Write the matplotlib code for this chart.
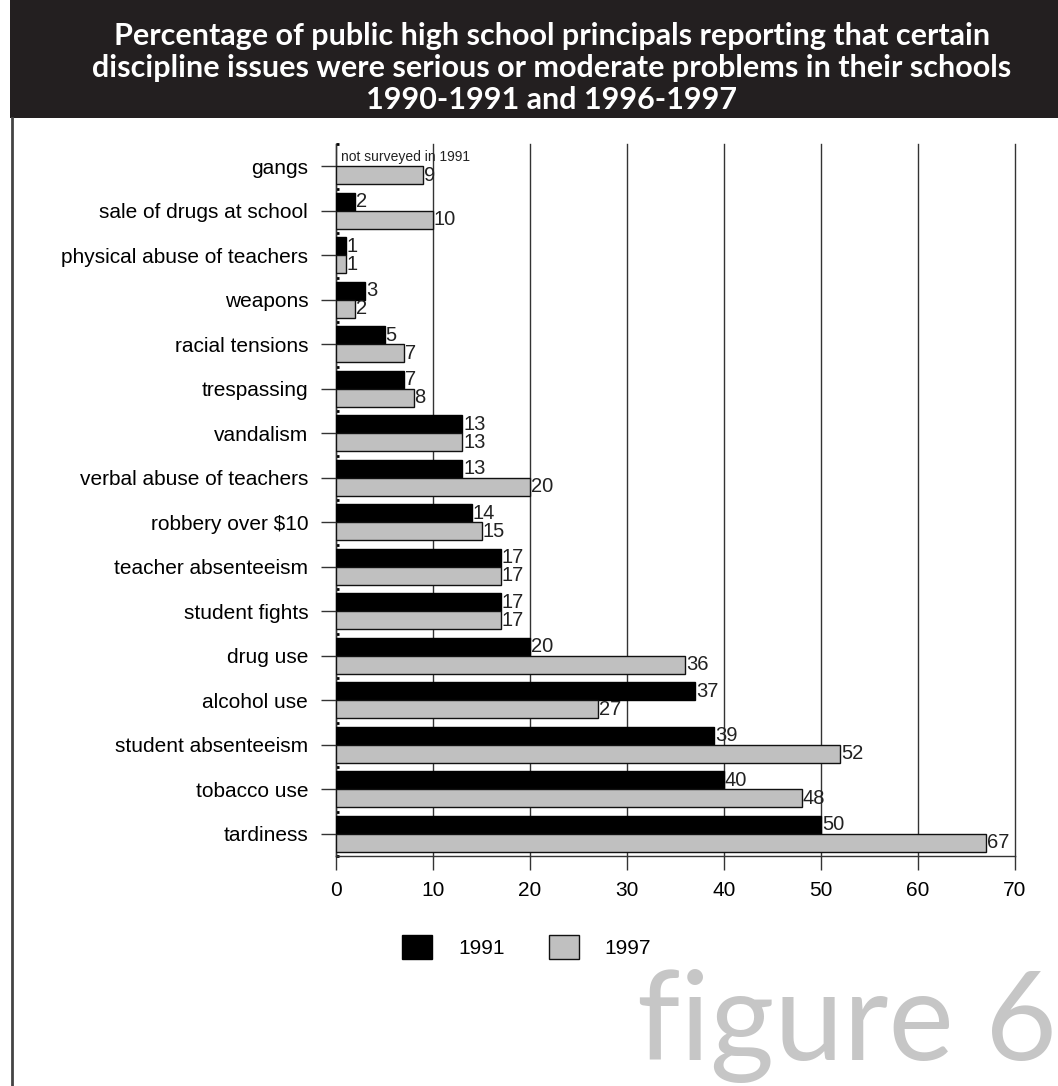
import matplotlib
matplotlib.use("Agg")
import matplotlib.pyplot as plt
from matplotlib.patches import Rectangle, Patch
from matplotlib.lines import Line2D
import numpy as np

plt.rcParams['font.family'] = ['Liberation Sans', 'DejaVu Sans']

# data, top to bottom as shown
categories = ["gangs", "sale of drugs at school", "physical abuse of teachers",
              "weapons", "racial tensions", "trespassing", "vandalism",
              "verbal abuse of teachers", r"robbery over \$10", "teacher absenteeism",
              "student fights", "drug use", "alcohol use", "student absenteeism",
              "tobacco use", "tardiness"]
vals_1991 = [None, 2, 1, 3, 5, 7, 13, 13, 14, 17, 17, 20, 37, 39, 40, 50]
vals_1997 = [9, 10, 1, 2, 7, 8, 13, 20, 15, 17, 17, 36, 27, 52, 48, 67]
x_ticks = [0, 10, 20, 30, 40, 50, 60, 70]

title = ("Percentage of public high school principals reporting that certain\n"
         "discipline issues were serious or moderate problems in their schools\n"
         "1990-1991 and 1996-1997")

W, H = 1058, 1086
fig = plt.figure(figsize=(W / 100, H / 100), dpi=100)

# title banner + left border
fig.patches.append(Rectangle((10 / W, 1 - 118 / H), 1 - 10 / W, 118 / H,
                             transform=fig.transFigure, facecolor="#231f20",
                             edgecolor="none", zorder=0))
fig.lines.append(Line2D([12 / W, 12 / W], [0, 1 - 118 / H], transform=fig.transFigure,
                        color="#444444", lw=2))
fig.text(552 / W, 1 - 68 / H, title, ha="center", va="center", color="white",
         fontsize=22, fontweight="bold", family=["Lato", "DejaVu Sans"],
         linespacing=1.17)

ax = fig.add_axes([336 / W, 1 - 856 / H, (1015 - 336) / W, (856 - 144) / H])

y = np.arange(len(categories))
bh = 0.41
for i, (a, b) in enumerate(zip(vals_1991, vals_1997)):
    if a is not None:
        ax.barh(y[i] - bh / 2, a, height=bh, color="black", edgecolor="black",
                linewidth=1, zorder=3)
        ax.text(a + 0.1, y[i] - bh / 2, str(a), va="center", ha="left",
                fontsize=14.5, color="#222222", zorder=4)
    ax.barh(y[i] + bh / 2, b, height=bh, color="#c0c0c0", edgecolor="#111111",
            linewidth=1, zorder=3)
    ax.text(b + 0.1, y[i] + bh / 2, str(b), va="center", ha="left",
            fontsize=14.5, color="#222222", zorder=4)

ax.text(0.5, -0.12, "not surveyed in 1991", fontsize=10, color="#222222",
        va="baseline", ha="left", zorder=4)

ax.set_xlim(0, 70)
ax.set_ylim(len(categories) - 0.5, -0.5)
ax.set_xticks(x_ticks)
ax.set_yticks(y)
ax.set_yticklabels(categories)
ax.set_yticks(np.arange(-0.5, len(categories), 1), minor=True)

ax.grid(axis="x", color="#333333", lw=1, zorder=0)
for gl in ax.get_xgridlines():
    gl.set_clip_on(False)
ax.tick_params(axis="x", direction="out", length=10, width=1, color="#333333",
               labelsize=15, pad=8)
ax.tick_params(axis="y", which="major", direction="out", length=11, width=1,
               color="#333333", labelsize=15, pad=9)
ax.tick_params(axis="y", which="minor", direction="in", length=2, width=2,
               color="black")
for s in ["top", "right"]:
    ax.spines[s].set_visible(False)
for s in ["left", "bottom"]:
    ax.spines[s].set_color("#333333")
    ax.spines[s].set_linewidth(1)

# legend
handles = [Patch(facecolor="black", edgecolor="black", label="1991"),
           Patch(facecolor="#c0c0c0", edgecolor="#111111", label="1997")]
fig.legend(handles=handles, loc="center left", bbox_to_anchor=(402 / W, 1 - 947 / H),
           ncol=2, frameon=False, fontsize=15, handlelength=1.45, handleheight=1.45,
           handletextpad=1.25, columnspacing=2.1, borderpad=0, borderaxespad=0)

fig.text(1057 / W, 1 - 1060 / H, "figure 6", ha="right", va="baseline",
         color="#c6c6c6", fontsize=89, fontweight="normal", family=["Lato", "DejaVu Sans"])

fig.savefig("out.png", dpi=100)
